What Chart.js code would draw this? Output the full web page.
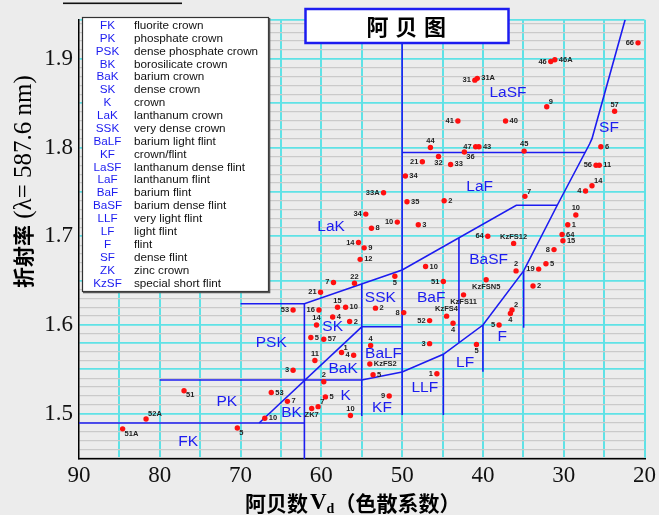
<!DOCTYPE html>
<html>
<head>
<meta charset="utf-8">
<title>阿贝图</title>
<script src="https://cdn.jsdelivr.net/npm/chart.js@4.4.1/dist/chart.umd.min.js"></script>
<style>
  html, body { margin: 0; padding: 0; background: #ececec; }
  canvas { display: block; }
</style>
</head>
<body>
<canvas id="abbe" width="659" height="515"></canvas>
<script>
// glasses: name, Abbe number vd, refractive index nd
const glassName = [
  "66","46","46A","31","31A","9","57","41","40","44","47","43","36","45","6","56","11",
  "21","32","33","34","33A","35","2","7","14","4","3","10","1","64","15",
  "34","10","8","14","9","12","22","7","21",
  "64","KzFS12","8","10","5","2","19","5","51","KzFSN5","2","KzFS11","8","52","KzFS4","4","2","4","5",
  "53","16","15","10","2","14","4","2","5","57","11","3",
  "1","4","4","KzFS2","5","2","5","7","ZK7","10","9","3","5","1",
  "53","7","51","52A","51A","5","10"
];
const glassVd = [
  20.8,31.6,31.1,41.0,40.7,32.1,23.7,43.1,37.2,46.5,40.9,40.5,42.3,34.9,25.4,26.0,25.6,
  47.5,45.5,44.0,49.6,52.3,49.4,44.8,34.8,26.5,27.3,48.0,28.5,29.5,30.2,30.1,
  54.5,50.6,53.8,55.4,54.7,55.2,55.9,58.5,60.1,
  39.4,36.2,31.2,47.1,32.2,35.9,33.1,50.9,44.9,39.6,33.8,42.4,49.8,46.6,44.5,43.7,36.4,36.6,38.0,
  63.5,60.3,58.0,57.0,53.3,60.6,58.6,56.5,61.3,59.7,60.8,63.5,
  57.5,56.0,53.9,54.0,53.6,59.7,59.5,60.4,61.2,56.4,51.6,46.6,40.8,45.7,
  66.2,64.2,77.0,81.7,84.6,70.4,67.0
];
const glassNd = [
  1.918,1.897,1.899,1.876,1.878,1.846,1.841,1.830,1.830,1.800,1.801,1.801,1.795,1.796,1.801,1.780,1.780,
  1.784,1.790,1.781,1.768,1.749,1.739,1.740,1.745,1.757,1.751,1.713,1.724,1.713,1.702,1.695,
  1.725,1.716,1.709,1.693,1.687,1.674,1.647,1.648,1.637,
  1.700,1.692,1.685,1.666,1.669,1.661,1.663,1.655,1.649,1.651,1.644,1.634,1.614,1.605,1.610,1.602,1.617,1.613,1.600,
  1.617,1.617,1.620,1.620,1.619,1.600,1.609,1.604,1.586,1.584,1.560,1.549,
  1.569,1.566,1.577,1.556,1.544,1.536,1.519,1.508,1.506,1.498,1.520,1.579,1.578,1.545,
  1.524,1.514,1.526,1.494,1.483,1.484,1.495
];
// which side of the dot its little label sits on
const labelSide = [
  "l","l","r","l","r","ar","a","l","r","a","l","r","br","a","r","l","r",
  "l","b","r","r","l","r","r","ar","ar","l","r","a","r","r","r",
  "l","l","r","l","r","r","a","l","l",
  "l","a","l","r","r","a","l","b","l","b","r","b","l","l","a","b","ar","b","l",
  "l","l","a","r","r","a","r","r","r","r","a","l",
  "ar","l","a","r","r","a","r","ar","b","a","l","l","b","l",
  "r","r","br","ar","br","br","r"
];

// glass family names inside the map
const familyName = ["FK","PK","BK","PSK","SK","BaK","K","KF","BaLF","SSK","LLF","LF","F","BaF","BaSF","LaK","LaF","LaSF","SF"];
const familyVd = [76.5,71.7,63.7,66.2,58.6,57.3,57.0,52.5,52.3,52.7,47.2,42.2,37.6,46.4,39.3,58.8,40.4,36.9,24.4];
const familyNd = [1.468,1.514,1.501,1.580,1.598,1.551,1.520,1.507,1.568,1.631,1.529,1.558,1.587,1.631,1.674,1.711,1.756,1.862,1.822];

// legend box
const legendCode = ["FK","PK","PSK","BK","BaK","SK","K","LaK","SSK","BaLF","KF","LaSF","LaF","BaF","BaSF","LLF","LF","F","SF","ZK","KzSF"];
const legendText = ["fluorite crown","phosphate crown","dense phosphate crown","borosilicate crown","barium crown",
  "dense crown","crown","lanthanum crown","very dense crown","barium light flint","crown/flint",
  "lanthanum dense flint","lanthanum flint","barium flint","barium dense flint","very light flint",
  "light flint","flint","dense flint","zinc crown","special short flint"];

// family borders, [vd, nd] vertices
const borderFK = [[90, 1.4896], [62.1, 1.4896]];
const borderBK = [[62.1, 1.449], [62.1, 1.624]];
const borderSK = [[67.7, 1.4896], [55, 1.598]];
const borderPSK = [[70, 1.624], [62.1, 1.624], [50, 1.662], [35.87, 1.735], [30.8, 1.735]];
const borderLow = [[80, 1.538], [55, 1.538], [50, 1.547], [44.9, 1.567], [40, 1.600], [34.96, 1.661],
  [30.8, 1.735], [26.8, 1.804], [26.5, 1.810], [22.4, 1.944]];
const borderSSK = [[55, 1.598], [50, 1.598]];
const borderV55 = [[55, 1.4975], [55, 1.6463]];
const borderV50 = [[50, 1.4985], [50, 1.944]];
const borderV45 = [[44.9, 1.4985], [44.9, 1.567]];
const borderV43 = [[42.97, 1.5807], [42.97, 1.6983]];
const borderV40 = [[40, 1.5473], [40, 1.600]];
const borderV35 = [[34.96, 1.597], [34.96, 1.661]];
const borderLaSF = [[50, 1.7944], [27.36, 1.7944]];

// axes
const xTickLabels = [90, 80, 70, 60, 50, 40, 30, 20];
const yTickLabels = [1.5, 1.6, 1.7, 1.8, 1.9];
const yCyanRows = [1.50, 1.55, 1.58, 1.60, 1.65, 1.70, 1.75, 1.80, 1.85, 1.90];
const Y_MIN = 1.449, Y_MAX = 1.944;

const CYAN = "#5fe2e6";
const GRAY = "#cacaca";
const BLUE = "#1c1cf0";

const borders = [borderFK, borderBK, borderSK, borderPSK, borderLow, borderSSK,
  borderV55, borderV50, borderV45, borderV43, borderV40, borderV35, borderLaSF];

const near = (a, b) => Math.abs(a - b) < 1e-6;

const deco = {
  id: "deco",
  beforeDraw(chart) {
    const c = chart.ctx;
    c.save();
    c.fillStyle = "#ececec";
    c.fillRect(0, 0, chart.width, chart.height);
    c.restore();
  },
  afterDraw(chart) {
    const c = chart.ctx, xs = chart.scales.x, ys = chart.scales.y;
    c.save();

    // family names
    c.fillStyle = BLUE;
    c.font = '15.5px "Liberation Sans", Arial, sans-serif';
    c.textAlign = "center";
    c.textBaseline = "middle";
    familyName.forEach((n, i) => {
      c.fillText(n, xs.getPixelForValue(familyVd[i]), ys.getPixelForValue(familyNd[i]));
    });

    // glass labels
    c.fillStyle = "#222";
    c.font = 'bold 7.5px "Liberation Sans", Arial, sans-serif';
    glassName.forEach((n, i) => {
      const px = xs.getPixelForValue(glassVd[i]), py = ys.getPixelForValue(glassNd[i]);
      const s = labelSide[i];
      if (s === "r") { c.textAlign = "left"; c.textBaseline = "middle"; c.fillText(n, px + 4, py); }
      else if (s === "l") { c.textAlign = "right"; c.textBaseline = "middle"; c.fillText(n, px - 4, py); }
      else if (s === "a") { c.textAlign = "center"; c.textBaseline = "bottom"; c.fillText(n, px, py - 3); }
      else if (s === "b") { c.textAlign = "center"; c.textBaseline = "top"; c.fillText(n, px, py + 3); }
      else if (s === "ar") { c.textAlign = "left"; c.textBaseline = "bottom"; c.fillText(n, px + 2, py - 1); }
      else { c.textAlign = "left"; c.textBaseline = "top"; c.fillText(n, px + 2, py + 1); }
    });

    // legend box
    c.fillStyle = "#fff";
    c.fillRect(82, 17, 187, 275);
    c.strokeStyle = "#333";
    c.lineWidth = 1.2;
    c.strokeRect(82.5, 17.5, 186, 274);
    c.strokeStyle = "#555";
    c.lineWidth = 1.6;
    c.beginPath();
    c.moveTo(269.5, 18); c.lineTo(269.5, 292.5); c.lineTo(83, 292.5);
    c.stroke();
    c.font = '11.7px "Liberation Sans", Arial, sans-serif';
    c.textBaseline = "middle";
    legendCode.forEach((code, i) => {
      const y = 25.7 + i * 12.88;
      c.fillStyle = BLUE; c.textAlign = "center"; c.fillText(code, 107.5, y);
      c.fillStyle = "#111"; c.textAlign = "left"; c.fillText(legendText[i], 134, y);
    });

    // title box
    c.fillStyle = "#fff";
    c.fillRect(305.5, 9, 203, 34);
    c.strokeStyle = BLUE;
    c.lineWidth = 2.5;
    c.strokeRect(305.5, 9, 203, 34);
    c.fillStyle = "#000";
    c.font = 'bold 22px "Noto Sans CJK SC", sans-serif';
    c.textAlign = "center";
    c.textBaseline = "middle";
    ["阿", "贝", "图"].forEach((ch, i) => c.fillText(ch, 377.5 + i * 28.7, 26.5));

    // x axis title
    c.textAlign = "left";
    c.textBaseline = "middle";
    let x = 245;
    c.font = 'bold 21px "Noto Sans CJK SC", sans-serif';
    c.fillText("阿贝数", x, 503); x += c.measureText("阿贝数").width;
    c.font = 'bold 23px "Liberation Serif", serif';
    c.fillText("V", x + 2, 503); x += c.measureText("V").width + 2;
    c.font = 'bold 14px "Liberation Serif", serif';
    c.fillText("d", x, 509); x += c.measureText("d").width;
    c.font = 'bold 21px "Noto Sans CJK SC", sans-serif';
    c.fillText("（色散系数）", x, 503);

    // y axis title
    c.translate(23, 288);
    c.rotate(-Math.PI / 2);
    c.font = 'bold 21px "Noto Sans CJK SC", sans-serif';
    c.fillText("折射率", 0, 0);
    const w = c.measureText("折射率").width;
    c.font = '25px "Liberation Serif", serif';
    c.fillText(" (λ= 587.6 nm)", w, 1);
    c.restore();

    // clipped heading at the very top
    c.save();
    c.fillStyle = "#111";
    c.fillRect(63, 2.5, 119, 1.6);
    c.restore();
  }
};

new Chart(document.getElementById("abbe"), {
  type: "scatter",
  data: {
    datasets: [
      {
        data: glassVd.map((v, i) => ({ x: v, y: glassNd[i] })),
        pointRadius: 2.7,
        pointBackgroundColor: "#ff1010",
        pointBorderWidth: 0,
      },
      ...borders.map(b => ({
        data: b.map(p => ({ x: p[0], y: p[1] })),
        showLine: true,
        pointRadius: 0,
        borderColor: BLUE,
        borderWidth: 1.6,
        fill: false,
        tension: 0,
      })),
    ],
  },
  options: {
    responsive: false,
    animation: false,
    devicePixelRatio: 1,
    layout: { padding: { top: 14, right: 11, left: 0, bottom: 0 } },
    plugins: { legend: { display: false }, tooltip: { enabled: false } },
    scales: {
      x: {
        type: "linear",
        min: 20,
        max: 90,
        reverse: true,
        afterFit: s => { s.height = 56; },
        border: { color: "#000", width: 1.5 },
        grid: {
          drawTicks: false,
          color: ctx => (ctx.tick && ctx.tick.value === 90 ? "rgba(0,0,0,0)" : CYAN),
          lineWidth: 2,
        },
        ticks: {
          stepSize: 5,
          autoSkip: false,
          maxRotation: 0,
          padding: 3,
          color: "#111",
          font: { family: '"Liberation Serif", serif', size: 23 },
          callback: v => (xTickLabels.includes(v) ? String(v) : ""),
        },
      },
      y: {
        type: "linear",
        min: Y_MIN,
        max: Y_MAX,
        z: -1,
        afterFit: s => { s.width = 79; },
        afterBuildTicks: s => {
          const t = [];
          for (let k = 145; k <= 194; k++) t.push({ value: k / 100 });
          t.push({ value: Y_MAX });
          s.ticks = t;
        },
        border: { color: "#000", width: 1.5 },
        grid: {
          drawTicks: false,
          color: ctx => {
            const v = ctx.tick ? ctx.tick.value : 0;
            if (near(v, Y_MAX)) return CYAN;
            return yCyanRows.some(r => near(r, v)) ? CYAN : GRAY;
          },
          lineWidth: ctx => {
            const v = ctx.tick ? ctx.tick.value : 0;
            return yCyanRows.some(r => near(r, v)) || near(v, Y_MAX) ? 1.8 : 1.3;
          },
        },
        ticks: {
          autoSkip: false,
          padding: 6,
          color: "#111",
          font: { family: '"Liberation Serif", serif', size: 23 },
          callback: v => {
            const hit = yTickLabels.find(t => near(t, v));
            return hit ? hit.toFixed(1) : "";
          },
        },
      },
    },
  },
  plugins: [deco],
});
</script>
</body>
</html>
